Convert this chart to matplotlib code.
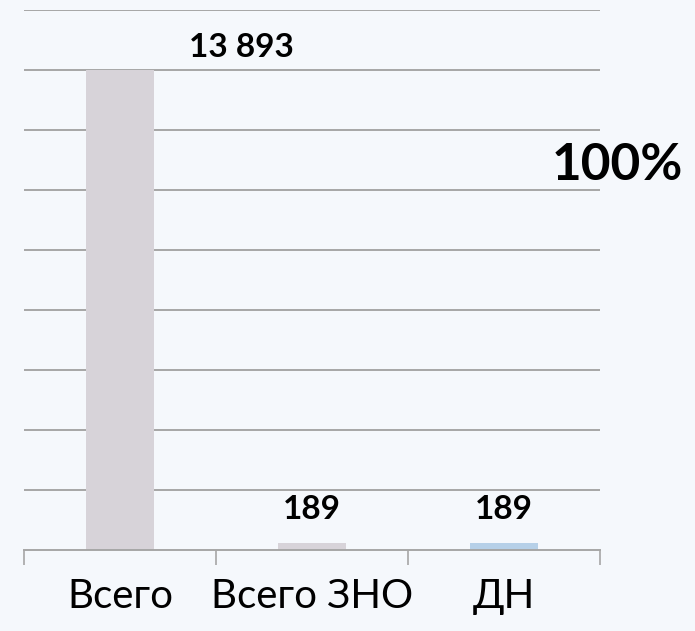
import matplotlib
matplotlib.use("Agg")
import matplotlib.pyplot as plt
import numpy as np

categories = ["Всего", "Всего ЗНО", "ДН"]
values = [13893, 189, 189]
value_labels = ["13 893", "189", "189"]
bar_colors = ["#d7d3d9", "#d7d3d9", "#b6d0e8"]
share_label = "100%"

plt.rcParams['font.family'] = ['Lato', 'DejaVu Sans']

fig = plt.figure(figsize=(6.95, 6.31), dpi=100)
fig.patch.set_facecolor("#f5f8fc")
ax = fig.add_axes([24 / 695, 1 - 550 / 631, 576 / 695, 540 / 631])
ax.set_facecolor("none")

x = np.arange(len(categories))
ax.bar(x, values, width=0.35, color=bar_colors, zorder=2)

# 9 gridlines, the tall bar reaches the 8th
step = values[0] / 8
ax.set_ylim(0, step * 9)
ax.set_yticks(np.arange(1, 10) * step)
ax.yaxis.grid(True, color="#a6a6a6", linewidth=1.4, zorder=0)
ax.tick_params(axis="y", length=0, labelleft=False)

ax.set_xlim(-0.5, 2.5)
ax.set_xticks(x)
ax.set_xticklabels(categories, fontsize=29)
ax.set_xticks([-0.5, 0.5, 1.5, 2.5], minor=True)
ax.tick_params(axis="x", which="major", length=0, pad=20)
ax.tick_params(axis="x", which="minor", length=11, width=1.2, color="#a6a6a6")

for s in ["top", "left", "right"]:
    ax.spines[s].set_visible(False)
ax.spines["bottom"].set_color("#a6a6a6")
ax.spines["bottom"].set_linewidth(1.4)

# value labels
ax.text(0.63, values[0] + step * 0.37, value_labels[0], ha="center", va="center",
        fontsize=24, fontweight="bold")
for i in (1, 2):
    ax.text(x[i], step * 0.67, value_labels[i], ha="center", va="center",
            fontsize=24, fontweight="bold")

ax.text(2.25, step * 6.4, share_label, ha="left", va="center",
        fontsize=37, fontweight="bold", clip_on=False)

fig.savefig("out.png", dpi=100, facecolor=fig.get_facecolor())
